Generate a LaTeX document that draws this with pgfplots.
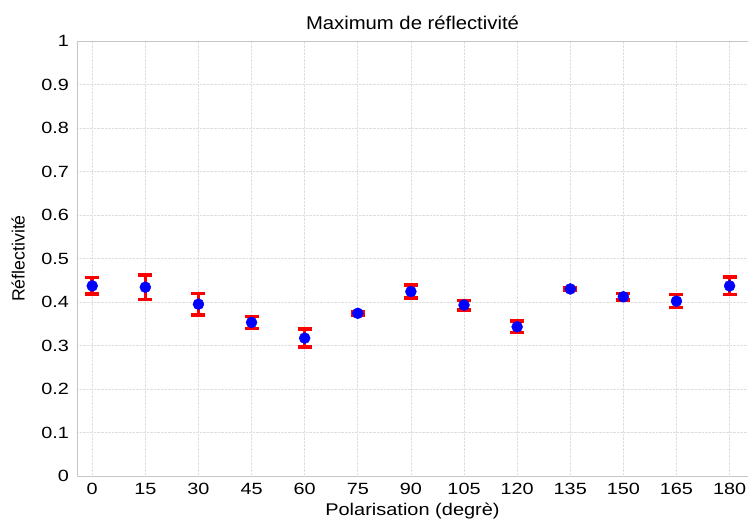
\documentclass[border=0pt]{standalone}
\usepackage{pgfplots}
\pgfplotsset{compat=1.18}
\usepackage{fontspec}
\setmainfont{Liberation Sans}
\newfontfamily\tickfont{Liberation Sans}[FakeStretch=1.22]
\newfontfamily\titlefont{Liberation Sans}[FakeStretch=1.1]
\newfontfamily\xlabfont{Liberation Sans}[FakeStretch=1.18]
\begin{document}
\begin{tikzpicture}
\begin{axis}[name=ax,
  scale only axis, width=671bp, height=435bp,
  xmin=-4.3, xmax=185.2, ymin=0, ymax=1,
  xtick={0,15,...,180}, ytick={0,0.1,...,1},
  yticklabels={0,0.1,0.2,0.3,0.4,0.5,0.6,0.7,0.8,0.9,1},
  /pgf/number format/assume math mode=true,
  tick label style={font=\tickfont\fontsize{16.3}{18}\selectfont},
  xticklabel style={inner sep=2bp, yshift=-5bp},
  yticklabel style={inner sep=2bp, xshift=-6bp},
  title style={font=\titlefont\fontsize{18.5}{20}\selectfont, yshift=2bp},
  title={Maximum de réflectivité},
  xlabel={Polarisation (degrè)}, ylabel={Réflectivité},
  xlabel style={font=\xlabfont\fontsize{17}{19}\selectfont, yshift=-3bp},
  ylabel style={font=\fontsize{17.8}{19}\selectfont, yshift=11bp},
  grid=major, major grid style={gray!25, densely dotted, line width=0.6bp},
  axis line style={gray!45, line width=0.8bp},
  tick style={draw=none},
]
\addplot+[only marks, mark=*, mark size=5.5bp, mark options={fill=blue, draw=blue},
  error bars/.cd, y dir=both, y explicit,
  error bar style={red, line width=3.5bp},
  error mark options={red, line width=3.5bp, mark size=7bp, rotate=90}]
coordinates {
(0,0.437) +- (0,0.019)
(15,0.434) +- (0,0.028)
(30,0.395) +- (0,0.025)
(45,0.353) +- (0,0.014)
(60,0.317) +- (0,0.021)
(75,0.374) +- (0,0.004)
(90,0.424) +- (0,0.015)
(105,0.393) +- (0,0.011)
(120,0.343) +- (0,0.013)
(135,0.430) +- (0,0.003)
(150,0.412) +- (0,0.007)
(165,0.402) +- (0,0.015)
(180,0.437) +- (0,0.020)
};
\end{axis}
\pgfresetboundingbox
\path[use as bounding box] ([shift={(-77bp,-43bp)}]ax.south west) rectangle ([shift={(0bp,41bp)}]ax.north east);
\end{tikzpicture}
\end{document}
